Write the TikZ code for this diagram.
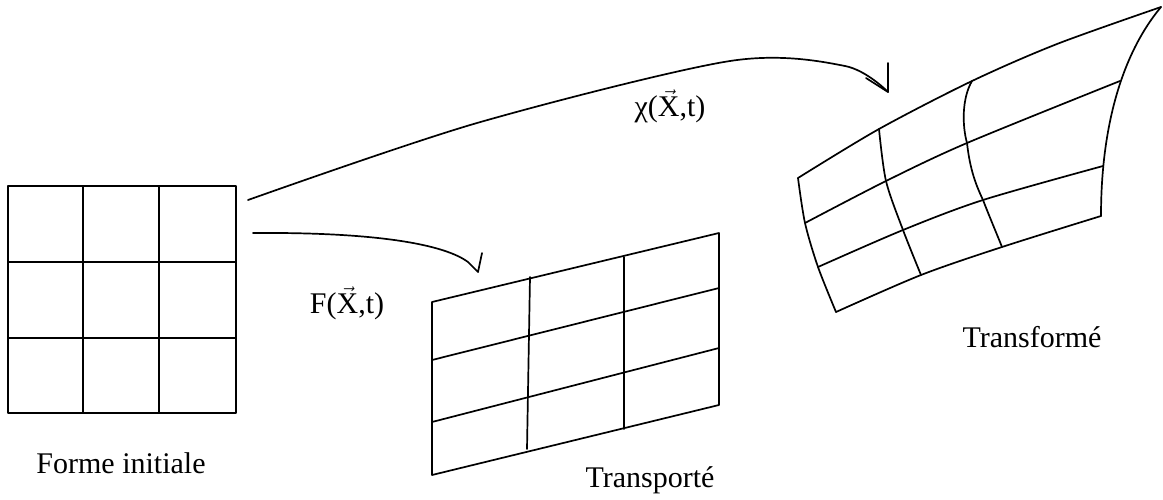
\documentclass[tikz,border=0pt]{standalone}
\usepackage{amsmath}
\usepackage{fontspec}
\setmainfont{Liberation Serif}
\begin{document}
\begin{tikzpicture}[x=1pt,y=-1pt,line join=round,line cap=round,
  gline/.style={line width=1.7pt},
  mapline/.style={line width=1.7pt},
  lbl/.style={font=\fontsize{30}{36}\selectfont,inner sep=0pt,anchor=base}]
\useasboundingbox (0,0) rectangle (1163,499);

% ---- initial square grid
\draw[gline] (8,186) rectangle (236,413);
\draw[gline] (83,186)--(83,413) (159,186)--(159,413)
             (8,262)--(236,262) (8,338)--(236,338);

% ---- transported grid
\draw[gline] (432,302)--(719,233)--(719,405)--(432,475)--cycle;
\draw[gline] (432,360)--(719,288) (432,422)--(719,348);
\draw[gline] (530,277)--(527,449) (624,257)--(624,429);

% ---- transformed grid
\coordinate (a0) at (798,178); \coordinate (a1) at (879,129); \coordinate (a2) at (972,81);  \coordinate (a3) at (1161,7);
\coordinate (b0) at (805,223); \coordinate (b1) at (886,181); \coordinate (b2) at (967,143); \coordinate (b3) at (1120,81);
\coordinate (c0) at (818,267); \coordinate (c1) at (903,230); \coordinate (c2) at (983,200); \coordinate (c3) at (1103,166);
\coordinate (d0) at (836,312); \coordinate (d1) at (921,275); \coordinate (d2) at (1002,247); \coordinate (d3) at (1101,216);
\draw[gline] plot[smooth] coordinates {(a0) (a1) (a2) (1057,44) (a3)};
\draw[gline] plot[smooth] coordinates {(b0) (b1) (b2) (b3)};
\draw[gline] plot[smooth] coordinates {(c0) (c1) (c2) (c3)};
\draw[gline] plot[smooth] coordinates {(d0) (d1) (d2) (d3)};
\draw[gline] plot[smooth] coordinates {(a0) (b0) (c0) (d0)};
\draw[gline] plot[smooth] coordinates {(a1) (b1) (c1) (d1)};
\draw[gline] (a2) .. controls (962,98) and (962,125) .. (b2) .. controls (970,170) and (976,185) .. (c2) .. controls (990,218) and (996,232) .. (d2);
\draw[gline] (a3) .. controls (1125,50) and (1101,120) .. (d3);

% ---- mapping arrows
\coordinate (fs) at (253,233); \coordinate (fk) at (468,262);
\coordinate (ft) at (478,272); \coordinate (fa) at (482,253);
\draw[mapline] (fs) .. controls (380,232) and (445,245) .. (fk) -- (ft) -- (fa);

\coordinate (cs) at (248,200); \coordinate (ct) at (888,92); \coordinate (ca) at (888,63);
\draw[mapline] plot[smooth] coordinates {(cs) (477,123) (730,61) (845,66) (ct)} -- (ca);
\draw[mapline] (866,78) -- (ct);

% ---- labels
\node[lbl] (lfi) at (121,473) {Forme initiale};
\node[lbl] (ltp) at (650,487) {Transporté};
\node[lbl] (ltf) at (1032,347) {Transformé};
\node[lbl] (lF)  at (347,313) {F($\vec{\text{X}}$,t)};
\node[lbl] (lchi) at (670,116) {χ($\vec{\text{X}}$,t)};
\end{tikzpicture}
\end{document}
